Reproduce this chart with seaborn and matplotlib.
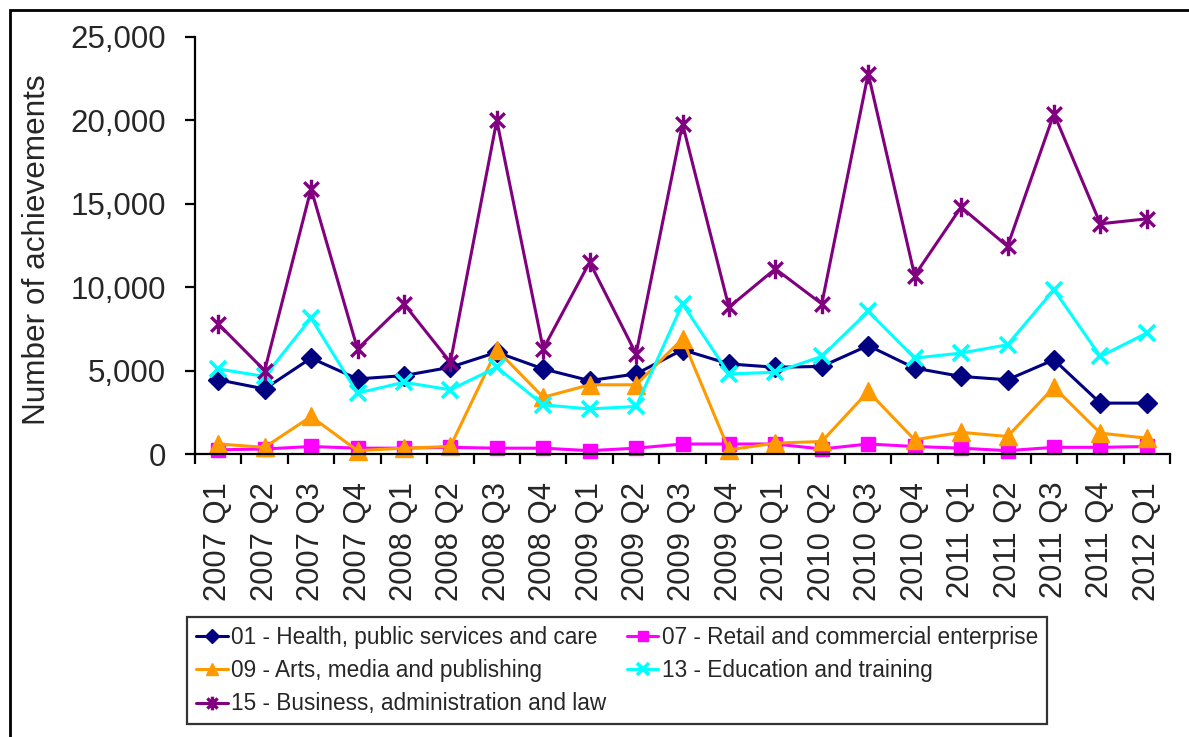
import numpy as np
import pandas as pd
import matplotlib
matplotlib.use("Agg")
import matplotlib.pyplot as plt
from matplotlib.path import Path
from matplotlib.patches import Rectangle
from matplotlib.ticker import FuncFormatter, FixedLocator
import seaborn as sns

quarters = ["2007 Q1", "2007 Q2", "2007 Q3", "2007 Q4",
            "2008 Q1", "2008 Q2", "2008 Q3", "2008 Q4",
            "2009 Q1", "2009 Q2", "2009 Q3", "2009 Q4",
            "2010 Q1", "2010 Q2", "2010 Q3", "2010 Q4",
            "2011 Q1", "2011 Q2", "2011 Q3", "2011 Q4",
            "2012 Q1"]

health = [4450, 3900, 5750, 4500, 4700, 5200, 6100, 5100, 4400, 4800, 6250,
          5400, 5200, 5250, 6500, 5150, 4650, 4450, 5650, 3050, 3050]
retail = [250, 300, 450, 350, 350, 400, 350, 350, 200, 350, 600,
          600, 600, 300, 600, 450, 350, 200, 400, 400, 450]
arts = [600, 400, 2250, 200, 350, 450, 6250, 3400, 4150, 4150, 6900,
        250, 650, 750, 3750, 850, 1300, 1050, 4000, 1250, 950]
education = [5100, 4650, 8150, 3650, 4300, 3850, 5200, 2950, 2700, 2850, 9000,
             4800, 4900, 5850, 8550, 5750, 6050, 6550, 9850, 5850, 7250]
business = [7800, 5000, 15900, 6300, 9000, 5500, 20000, 6300, 11500, 6000, 19800,
            8800, 11100, 9000, 22800, 10700, 14800, 12450, 20400, 13800, 14100]

series_names = ["01 - Health, public services and care",
                "07 - Retail and commercial enterprise",
                "09 - Arts, media and publishing",
                "13 - Education and training",
                "15 - Business, administration and law"]
series_values = [health, retail, arts, education, business]
colors = ["#000080", "#FF00FF", "#FF9900", "#00FFFF", "#800080"]
yticks = [0, 5000, 10000, 15000, 20000, 25000]

# Excel-style asterisk marker: X plus vertical bar
star = Path([(0, -1), (0, 1), (-0.75, -0.75), (0.75, 0.75), (-0.75, 0.75), (0.75, -0.75)],
            [Path.MOVETO, Path.LINETO, Path.MOVETO, Path.LINETO, Path.MOVETO, Path.LINETO])
markers = ["D", "s", "^", "x", star]
msizes = [10, 10.5, 12.5, 11.5, 14]
mews = [1, 1, 1, 2.6, 2.4]

sns.set_style("white")
plt.rcParams["font.family"] = ["Liberation Sans", "DejaVu Sans"]

fig = plt.figure(figsize=(11.89, 7.37), dpi=100, facecolor="white")
ax = fig.add_axes([195 / 1189, 1 - 454 / 737, 975 / 1189, 417 / 737])

for name, vals, c, m, ms, mew in zip(series_names, series_values, colors, markers, msizes, mews):
    df = pd.DataFrame({"quarter": quarters, "value": vals})
    sns.lineplot(data=df, x="quarter", y="value", ax=ax, color=c, marker=m,
                 markersize=ms, markeredgecolor=c, markerfacecolor=c,
                 markeredgewidth=mew, linewidth=2.2, label=name, sort=False,
                 errorbar=None, clip_on=False)

ax.set_xlim(-0.5, len(quarters) - 0.5)
ax.set_ylim(0, 25000)
ax.yaxis.set_major_locator(FixedLocator(yticks))
ax.yaxis.set_major_formatter(FuncFormatter(lambda v, p: f"{int(v):,}"))
ax.set_xticks(range(len(quarters)))
ax.set_xticklabels(quarters, rotation=90, fontsize=22.3)
ax.xaxis.set_minor_locator(FixedLocator(np.arange(-0.5, len(quarters), 1.0)))
ax.tick_params(axis="x", which="major", length=0, pad=20)
ax.tick_params(axis="x", which="minor", length=7, width=1.6, direction="out", color="black", bottom=True)
ax.tick_params(axis="y", which="major", length=7, width=1.6, direction="out", color="black",
               labelsize=22.5, pad=14, left=True)
ax.set_xlabel("")
ax.set_ylabel("Number of achievements", fontsize=22.7)
ax.yaxis.set_label_coords(-0.162, 0.49)
ax.yaxis.label.set_va("center")

for s in ["top", "right"]:
    ax.spines[s].set_visible(False)
for s in ["left", "bottom"]:
    ax.spines[s].set_visible(True)
    ax.spines[s].set_color("black")
    ax.spines[s].set_linewidth(1.6)

handles, labels = ax.get_legend_handles_labels()
ax.get_legend().remove()
order = [0, 2, 4, 1, 3]
leg = fig.legend([handles[i] for i in order], [labels[i] for i in order],
                 loc="upper left", bbox_to_anchor=(187 / 1189, 1 - 617 / 737),
                 bbox_transform=fig.transFigure, ncol=2, fontsize=16.3,
                 frameon=True, fancybox=False, edgecolor="black",
                 handlelength=1.4, handletextpad=0.15, columnspacing=0.9,
                 labelspacing=0.45, borderpad=0.4, borderaxespad=0, markerscale=0.7)
leg.get_frame().set_linewidth(1.6)

fig.patches.append(Rectangle((10 / 1189, -0.1), 1.2, 1.1 - 10 / 737, transform=fig.transFigure,
                             fill=False, edgecolor="black", linewidth=2, zorder=-1))

fig.savefig("out.png", dpi=100, facecolor="white")
